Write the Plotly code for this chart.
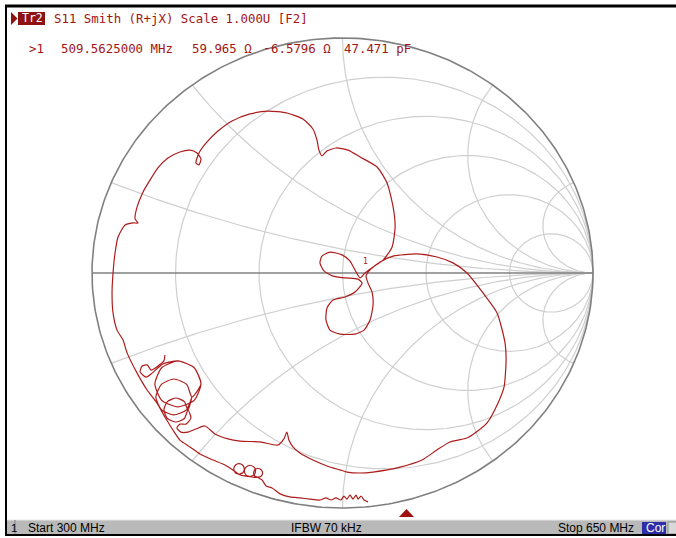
import numpy as np
import plotly.graph_objects as go

# ---------------- data ----------------
# S11 trace (reflection coefficient, real / imaginary part)
s11_re = [0.102, 0.086, 0.074, 0.062, 0.054, 0.042, 0.030, 0.018, 0.006, -0.006,
          -0.026, -0.046, -0.066, -0.090, -0.130, -0.170, -0.210, -0.249, -0.281, -0.305,
          -0.321,
          -0.337, -0.325, -0.319, -0.325, -0.337, -0.350, -0.355, -0.350, -0.337,
          -0.369, -0.353, -0.347, -0.353, -0.369, -0.385, -0.392, -0.385, -0.369,
          -0.413, -0.398, -0.392, -0.398, -0.413, -0.428, -0.434, -0.428, -0.413,
          -0.469, -0.517, -0.569, -0.609,
          -0.649, -0.677, -0.709, -0.741, -0.780, -0.820, -0.860, -0.876, -0.900, -0.916,
          -0.920, -0.916, -0.908, -0.896, -0.868, -0.836, -0.816, -0.828, -0.820, -0.796,
          -0.768, -0.737, -0.697, -0.649, -0.609, -0.581, -0.565, -0.573, -0.585, -0.573,
          -0.545, -0.497, -0.441, -0.369, -0.297, -0.222, -0.158, -0.118, -0.102, -0.094,
          -0.082, -0.062, -0.026, 0.022, 0.070, 0.138, 0.178, 0.202, 0.210, 0.198,
          0.162, 0.122, 0.090, 0.070, 0.050, 0.030, -0.002, -0.050, -0.082, -0.090,
          -0.074, -0.038, 0.010, 0.062, 0.078, 0.050, 0.010, -0.038, -0.062, -0.066,
          -0.050, -0.010, 0.050, 0.086, 0.110, 0.122, 0.118, 0.102, 0.094, 0.110,
          0.150, 0.202, 0.297, 0.377, 0.441, 0.497, 0.561, 0.617, 0.649, 0.653,
          0.645, 0.621, 0.577, 0.529, 0.497, 0.429, 0.377, 0.317, 0.230, 0.122,
          0.070, 0.018, -0.010, -0.062, -0.118, -0.170, -0.198, -0.214, -0.222, -0.234,
          -0.257, -0.329, -0.409, -0.457, -0.509, -0.549, -0.585, -0.617, -0.645, -0.661,
          -0.649, -0.625, -0.605,
          -0.617, -0.631, -0.665, -0.699, -0.713, -0.699, -0.665, -0.631, -0.617,
          -0.601, -0.622, -0.673, -0.723, -0.745, -0.723, -0.673, -0.622, -0.601,
          -0.565, -0.592, -0.657, -0.722, -0.749, -0.722, -0.657, -0.592, -0.565, -0.592, -0.657,
          -0.717, -0.760, -0.784, -0.808, -0.800, -0.780, -0.764, -0.737, -0.713, -0.709]
s11_im = [-0.974, -0.966, -0.949, -0.962, -0.945, -0.962, -0.945, -0.962, -0.949, -0.966,
          -0.957, -0.966, -0.957, -0.966, -0.962, -0.957, -0.953, -0.940, -0.915, -0.906,
          -0.881,
          -0.870, -0.865, -0.851, -0.837, -0.832, -0.837, -0.851, -0.865, -0.870,
          -0.867, -0.860, -0.843, -0.826, -0.818, -0.826, -0.843, -0.860, -0.867,
          -0.857, -0.850, -0.834, -0.818, -0.811, -0.818, -0.834, -0.850, -0.857,
          -0.817, -0.796, -0.770, -0.740,
          -0.711, -0.668, -0.613, -0.553, -0.498, -0.426, -0.340, -0.285, -0.243, -0.170,
          -0.085, 0.000, 0.085, 0.153, 0.204, 0.213, 0.213, 0.230, 0.281, 0.345,
          0.396, 0.447, 0.489, 0.515, 0.523, 0.511, 0.485, 0.460, 0.468, 0.511,
          0.553, 0.604, 0.647, 0.677, 0.689, 0.681, 0.655, 0.613, 0.566, 0.523,
          0.498, 0.519, 0.532, 0.523, 0.494, 0.451, 0.383, 0.281, 0.196, 0.111,
          0.055, 0.026, 0.000, -0.021, 0.013, 0.051, 0.077, 0.089, 0.072, 0.043,
          0.009, -0.013, -0.021, -0.026, -0.043, -0.081, -0.102, -0.115, -0.149, -0.200,
          -0.243, -0.260, -0.260, -0.243, -0.200, -0.136, -0.081, -0.043, -0.013, 0.013,
          0.047, 0.072, 0.081, 0.068, 0.043, 0.000, -0.085, -0.170, -0.298, -0.370,
          -0.485, -0.553, -0.638, -0.681, -0.702, -0.719, -0.753, -0.796, -0.826, -0.847,
          -0.851, -0.847, -0.838, -0.821, -0.796, -0.766, -0.740, -0.711, -0.677, -0.706,
          -0.732, -0.719, -0.715, -0.706, -0.685, -0.651, -0.664, -0.677, -0.677, -0.660,
          -0.643, -0.643, -0.617,
          -0.583, -0.619, -0.634, -0.619, -0.583, -0.547, -0.532, -0.547, -0.583,
          -0.528, -0.582, -0.604, -0.582, -0.528, -0.474, -0.451, -0.474, -0.528,
          -0.472, -0.403, -0.374, -0.403, -0.472, -0.542, -0.570, -0.542, -0.472, -0.403, -0.374,
          -0.387, -0.426, -0.443, -0.421, -0.396, -0.391, -0.413, -0.396, -0.374, -0.349]

# Smith grid values
r_circles = [0.2, 0.5, 1, 2, 5]
x_arcs = [0.2, 0.5, 1, 2, 5]

# texts
tr_label = "Tr2"
header = "S11 Smith (R+jX) Scale 1.000U [F2]"
marker_no = ">1"
marker_freq = "509.5625000 MHz"
marker_res = "59.965 Ω"
marker_rea_sign = "-"
marker_rea = "6.5796 Ω"
marker_cap = "47.471 pF"
start_label = "Start 300 MHz"
ifbw_label = "IFBW 70 kHz"
stop_label = "Stop 650 MHz"
cor_label = "Cor"
channel_label = "1"

# ---------------- figure ----------------
W, H = 676, 538
TRACE = "#ad1c1c"
TEXT = "#a31515"
GRID = "#cfcfcf"
EDGE = "#808080"

fig = go.Figure()

# resistance circles
t = np.linspace(0, 2 * np.pi, 400)
for r in r_circles:
    c = r / (1 + r)
    rad = 1 / (1 + r)
    fig.add_trace(go.Scatter(x=c + rad * np.cos(t), y=rad * np.sin(t), mode="lines",
                             line=dict(color=GRID, width=1.2), hoverinfo="skip", showlegend=False))
# reactance arcs
rr = np.concatenate([[0.0], np.logspace(-3, 4, 600)])
for xv in x_arcs:
    for s in (1, -1):
        z = rr + 1j * s * xv
        g = (z - 1) / (z + 1)
        fig.add_trace(go.Scatter(x=np.append(g.real, 1.0), y=np.append(g.imag, 0.0), mode="lines",
                                 line=dict(color=GRID, width=1.2), hoverinfo="skip", showlegend=False))
# outer circle and real axis
fig.add_trace(go.Scatter(x=np.cos(t), y=np.sin(t), mode="lines",
                         line=dict(color=EDGE, width=1.6), hoverinfo="skip", showlegend=False))
fig.add_trace(go.Scatter(x=[-1, 1], y=[0, 0], mode="lines",
                         line=dict(color=EDGE, width=1.6), hoverinfo="skip", showlegend=False))

# measured trace
fig.add_trace(go.Scatter(x=s11_re, y=s11_im, mode="lines",
                         line=dict(color=TRACE, width=1.2, shape="spline", smoothing=0.6),
                         showlegend=False))

# marker label on trace
fig.add_annotation(x=0.09, y=0.047, text="1", showarrow=False, xref="x", yref="y",
                   font=dict(family="DejaVu Sans", size=8, color=TRACE))


def px(x):
    return x / W


def py(y):
    return 1 - y / H


shapes = []
# frame lines
shapes.append(dict(type="line", xref="paper", yref="paper", x0=px(5), x1=px(676), y0=py(6), y1=py(6),
                   line=dict(color="black", width=3)))
shapes.append(dict(type="line", xref="paper", yref="paper", x0=px(6), x1=px(6), y0=py(5), y1=py(536),
                   line=dict(color="black", width=2)))
# status bar
shapes.append(dict(type="rect", xref="paper", yref="paper", x0=px(7), x1=px(676), y0=py(520), y1=py(534),
                   fillcolor="#b9b9b9", line=dict(width=0)))
shapes.append(dict(type="line", xref="paper", yref="paper", x0=px(7), x1=px(676), y0=py(520), y1=py(520),
                   line=dict(color="#e8e8e8", width=1)))
shapes.append(dict(type="line", xref="paper", yref="paper", x0=px(15), x1=px(15), y0=py(520), y1=py(534),
                   line=dict(color="#808080", width=1)))
shapes.append(dict(type="rect", xref="paper", yref="paper", x0=px(642), x1=px(666), y0=py(522), y1=py(534),
                   fillcolor="#2e2ea8", line=dict(width=0)))
shapes.append(dict(type="rect", xref="paper", yref="paper", x0=px(668), x1=px(677), y0=py(522), y1=py(534),
                   fillcolor="#d8d8d8", line=dict(color="#909090", width=1)))
shapes.append(dict(type="line", xref="paper", yref="paper", x0=px(6), x1=px(676), y0=py(535), y1=py(535),
                   line=dict(color="black", width=2)))
# Tr2 box and triangle
shapes.append(dict(type="rect", xref="paper", yref="paper", x0=px(18), x1=px(45), y0=py(12), y1=py(25),
                   fillcolor="#8e1212", line=dict(width=0)))
shapes.append(dict(type="path", xref="paper", yref="paper",
                   path=f"M {px(11)},{py(12)} L {px(17.5)},{py(18.5)} L {px(11)},{py(25)} Z",
                   fillcolor="#8e1212", line=dict(width=0)))
# marker position triangle
shapes.append(dict(type="path", xref="paper", yref="paper",
                   path=f"M {px(399)},{py(517)} L {px(406.5)},{py(509)} L {px(414)},{py(517)} Z",
                   fillcolor="#a01010", line=dict(width=0)))
fig.update_layout(shapes=shapes)

MONO = "DejaVu Sans Mono"
SANS = "Liberation Sans"


def label(x, y, text, color=TEXT, size=12.4, family=MONO, anchor="left"):
    fig.add_annotation(x=px(x), y=py(y), xref="paper", yref="paper", text=text, showarrow=False,
                       xanchor=anchor, yanchor="middle", font=dict(family=family, size=size, color=color))


label(20, 18.5, tr_label, color="white", size=11.5)
label(52, 18, header)
label(27, 48.5, marker_no)
label(59, 48.5, marker_freq)
label(190, 48.5, marker_res)
label(261, 47.5, marker_rea_sign, size=13)
label(268.5, 48.5, marker_rea)
label(342, 48.5, marker_cap)
label(8.5, 528, channel_label, color="black", size=11.5, family=SANS)
label(26, 528, start_label, color="black", size=12, family=SANS)
label(289, 528, ifbw_label, color="black", size=12, family=SANS)
label(556, 528, stop_label, color="black", size=12, family=SANS)
label(644, 528, cor_label, color="white", size=12, family=SANS)

fig.update_layout(
    width=W, height=H, autosize=False,
    margin=dict(l=0, r=0, t=0, b=0),
    paper_bgcolor="white", plot_bgcolor="white",
    xaxis=dict(range=[-342.5 / 250.5, (W - 342.5) / 250.5], visible=False, fixedrange=True),
    yaxis=dict(range=[(273 - H) / 235.0, 273 / 235.0], visible=False, fixedrange=True),
)

fig.write_html("out.html", config={"displayModeBar": False},
               post_script="document.body.style.margin='0px';")
